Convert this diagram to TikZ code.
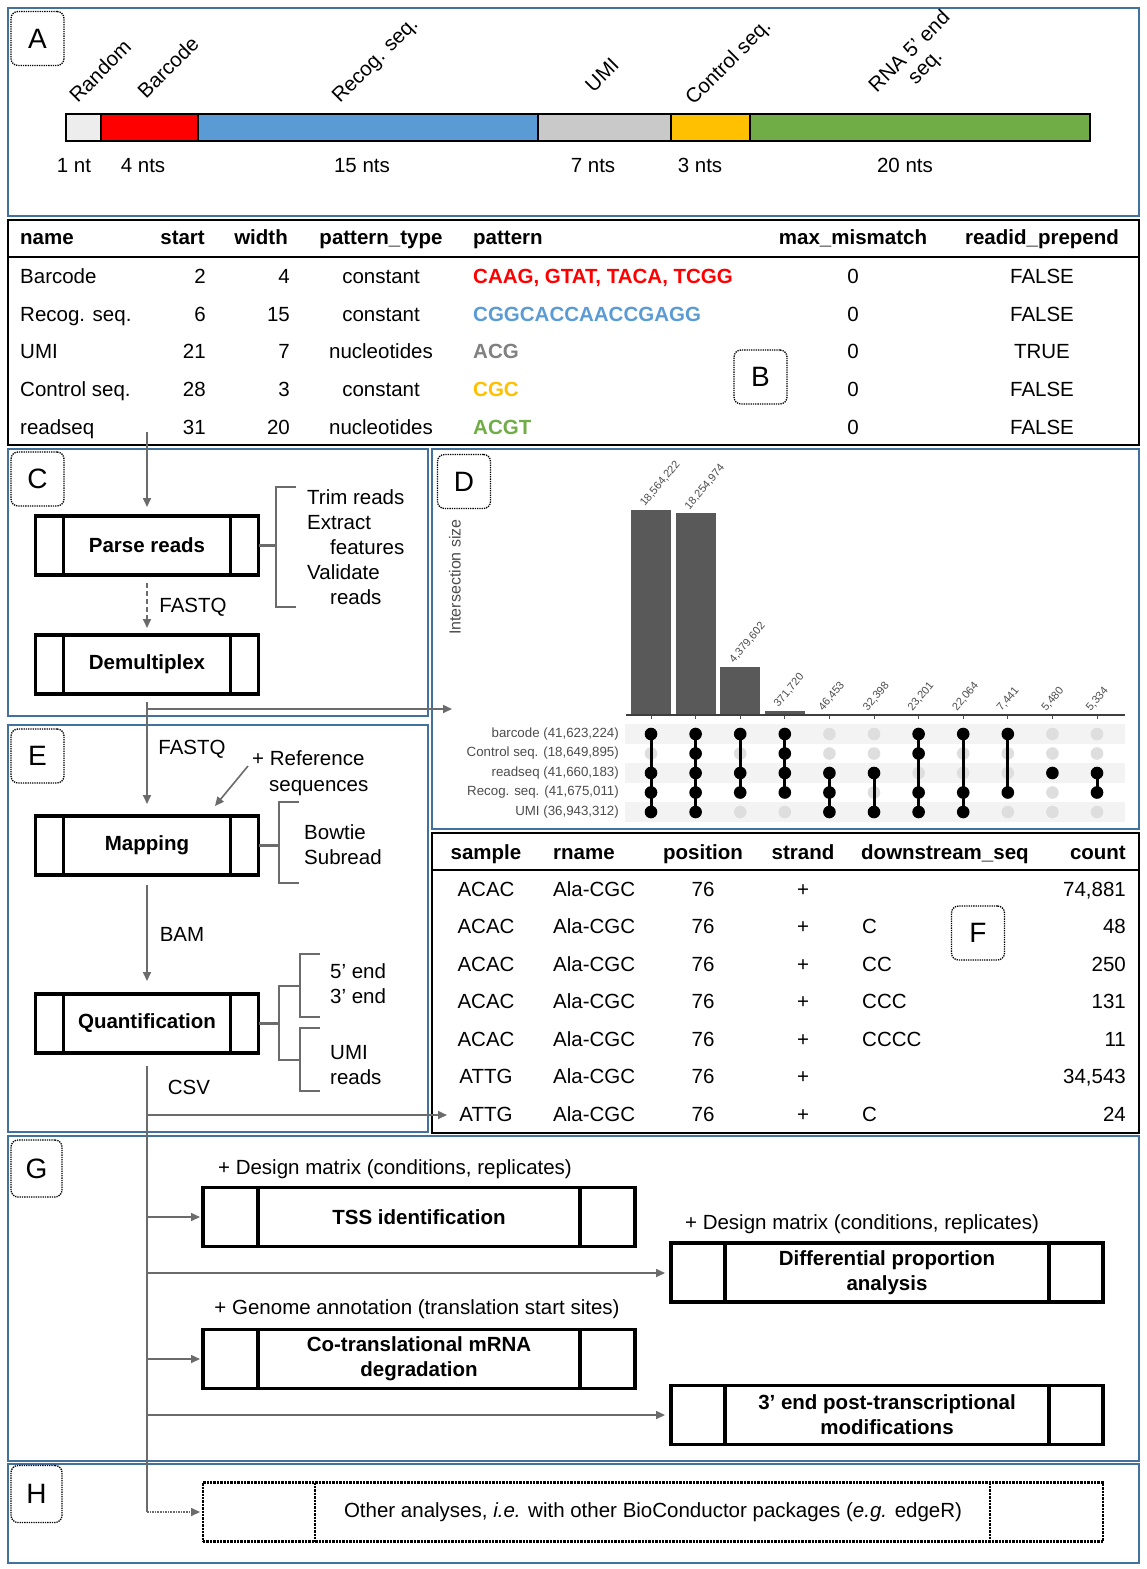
\documentclass[tikz,border=0pt]{standalone}
\usepackage{fontspec}
\setmainfont{Liberation Sans}
\usetikzlibrary{arrows.meta,calc}
\definecolor{panelblue}{HTML}{41719C}
\definecolor{segred}{HTML}{FF0000}
\definecolor{segblue}{HTML}{5B9BD5}
\definecolor{seggrey}{HTML}{C9C9C9}
\definecolor{seglight}{HTML}{EDEDED}
\definecolor{segyellow}{HTML}{FFC000}
\definecolor{seggreen}{HTML}{70AD47}
\definecolor{patgrey}{HTML}{808080}
\definecolor{flowgrey}{HTML}{6B6B6B}
\definecolor{bargrey}{HTML}{595959}
\definecolor{dotoff}{HTML}{DEDEDE}
\definecolor{stripe}{HTML}{F3F3F3}
\definecolor{plottext}{HTML}{4D4D4D}
\newcommand{\fs}[2]{\fontsize{#1}{#2}\selectfont}
\newcommand{\procinner}[3]{%
  \draw[line width=#3] ($(#1.north west)+(#2,0)$) -- ($(#1.south west)+(#2,0)$);
  \draw[line width=#3] ($(#1.north east)+(-#2,0)$) -- ($(#1.south east)+(-#2,0)$);}
\tikzset{
  panel/.style={draw=panelblue, line width=2pt},
  tablebox/.style={draw=black, line width=2pt},
  tagbox/.style={draw, densely dotted, rounded corners=7pt, line width=1.3pt, minimum width=53pt, minimum height=54pt, inner sep=0pt, font=\fs{28}{30}},
  procbox/.style={draw, line width=3.3pt, outer sep=0pt, inner sep=0pt, minimum width=223pt, minimum height=59pt, font=\bfseries\fs{20.5}{25}},
  bigbox/.style={draw, line width=3.6pt, outer sep=0pt, inner sep=0pt, minimum width=432pt, minimum height=59pt, font=\bfseries\fs{20.5}{25}},
  lbl/.style={inner sep=0pt, font=\fs{20.5}{22}},
  hdr/.style={inner sep=0pt, font=\bfseries\fs{20.5}{22}},
  seq/.style={inner sep=0pt, font=\bfseries\fs{20.5}{22}},
  seg/.style={draw=black, line width=2pt},
  flow/.style={draw=flowgrey, line width=1.6pt, -{Triangle[length=9pt,width=8pt]}},
  flowline/.style={draw=flowgrey, line width=1.6pt},
  brk/.style={draw=flowgrey, line width=2.6pt},
  barlbl/.style={inner sep=0pt, rotate=50, anchor=south west, font=\fs{11}{12}, text=plottext},
  setlbl/.style={inner sep=0pt, anchor=east, font=\fs{13.3}{15}, text=plottext},
}
\begin{document}
\begin{tikzpicture}[x=1pt,y=-1pt]
\useasboundingbox[fill=white] (0,0) rectangle (1146,1569);

% ---------- panels ----------
\draw[panel] (8,8) rectangle (1139,216);
\draw[tablebox] (8,220) rectangle (1139,445);
\draw[panel] (8,449) rectangle (428,716);
\draw[panel] (432,449) rectangle (1139,829);
\draw[panel] (8,725) rectangle (428,1132);
\draw[tablebox] (432,833) rectangle (1139,1133);
\draw[panel] (8,1136) rectangle (1139,1461);
\draw[panel] (8,1464) rectangle (1139,1563);

% ---------- tags ----------
\node[tagbox] (tagA) at (37.5,38.5) {A};
\node[tagbox] (tagB) at (760.5,377) {B};
\node[tagbox] (tagC) at (37.5,479) {C};
\node[tagbox] (tagD) at (464,481.5) {D};
\node[tagbox] (tagE) at (37.5,756) {E};
\node[tagbox] (tagF) at (978,933) {F};
\node[tagbox, minimum width=51pt, minimum height=57pt] (tagG) at (36.5,1168.5) {G};
\node[tagbox, minimum width=51pt, minimum height=57pt] (tagH) at (36.5,1494) {H};

% ---------- panel A : read structure ----------
\draw[seg, fill=seglight] (66,114) rectangle (101,141);
\draw[seg, fill=segred] (101,114) rectangle (198,141);
\draw[seg, fill=segblue] (198,114) rectangle (538,141);
\draw[seg, fill=seggrey] (538,114) rectangle (671,141);
\draw[seg, fill=segyellow] (671,114) rectangle (750,141);
\draw[seg, fill=seggreen] (750,114) rectangle (1090,141);

\node[lbl, rotate=45] (aRandom) at (100,71) {Random};
\node[lbl, rotate=45] (aBarcode) at (168,67) {Barcode};
\node[lbl, rotate=45] (aRecog) at (376,61) {Recog. seq.};
\node[lbl, rotate=45] (aUMI) at (602,75) {UMI};
\node[lbl, rotate=45] (aControl) at (729,63) {Control seq.};
\node[lbl, rotate=45, align=center] (aRNA) at (918,60) {RNA 5’ end\\seq.};

\node[lbl, anchor=base] (n1) at (74,172) {1 nt};
\node[lbl, anchor=base] (n4) at (143,172) {4 nts};
\node[lbl, anchor=base] (n15) at (362,172) {15 nts};
\node[lbl, anchor=base] (n7) at (593,172) {7 nts};
\node[lbl, anchor=base] (n3) at (700,172) {3 nts};
\node[lbl, anchor=base] (n20) at (905,172) {20 nts};

% ---------- table B ----------
\draw[line width=1.5pt] (8,257) -- (1139,257);
\node[hdr, anchor=base west] (bh1) at (20,244) {name};
\node[hdr, anchor=base east] (bh2) at (205,244) {start};
\node[hdr, anchor=base east] (bh3) at (288,244) {width};
\node[hdr, anchor=base] (bh4) at (381,244) {pattern\_type};
\node[hdr, anchor=base west] (bh5) at (473,244) {pattern};
\node[hdr, anchor=base] (bh6) at (853,244) {max\_mismatch};
\node[hdr, anchor=base] (bh7) at (1042,244) {readid\_prepend};
\foreach \yy/\cnm/\cst/\cwid/\cpt/\cpat/\ccol/\ctf [count=\k] in {
  283.5/Barcode/2/4/constant/{CAAG, GTAT, TACA, TCGG}/segred/FALSE,
  321.5/Recog. seq./6/15/constant/CGGCACCAACCGAGG/segblue/FALSE,
  358.5/UMI/21/7/nucleotides/ACG/patgrey/TRUE,
  396.5/Control seq./28/3/constant/CGC/segyellow/FALSE,
  434.5/readseq/31/20/nucleotides/ACGT/seggreen/FALSE}{
  \node[lbl, anchor=base west] (b\k a) at (20,\yy) {\cnm};
  \node[lbl, anchor=base east] (b\k b) at (206,\yy) {\cst};
  \node[lbl, anchor=base east] (b\k c) at (290,\yy) {\cwid};
  \node[lbl, anchor=base] (b\k d) at (381,\yy) {\cpt};
  \node[seq, anchor=base west, text=\ccol] (b\k e) at (473,\yy) {\cpat};
  \node[lbl, anchor=base] (b\k f) at (853,\yy) {0};
  \node[lbl, anchor=base] (b\k g) at (1042,\yy) {\ctf};
}

% ---------- panel C ----------
\node[procbox] (parse) at (147,545.5) {Parse reads};
\procinner{parse}{28}{3.3pt}
\node[procbox] (demux) at (147,664.5) {Demultiplex};
\procinner{demux}{28}{3.3pt}
\coordinate (cB) at (147,432);
\draw[flow, shorten >=9pt] (cB) -- (parse.north);
\draw[flow, dash pattern=on 5pt off 3pt, shorten <=8pt, shorten >=7pt] (parse.south) -- (demux.north);
\node[lbl, anchor=base] (fq1) at (193,612.5) {FASTQ};
\draw[brk] (parse.east) -- (276,545.5);
\draw[brk] (296,487) -- (276,487) -- (276,607) -- (296,607);
\node[lbl, anchor=base west] (c1) at (307,504.5) {Trim reads};
\node[lbl, anchor=base west] (c2) at (307,529) {Extract};
\node[lbl, anchor=base west] (c3) at (330,554) {features};
\node[lbl, anchor=base west] (c4) at (307,579) {Validate};
\node[lbl, anchor=base west] (c5) at (330,604) {reads};

% ---------- panel E ----------
\node[procbox] (map) at (147,845.5) {Mapping};
\procinner{map}{28}{3.3pt}
\node[procbox] (quant) at (147,1023.5) {Quantification};
\procinner{quant}{28}{3.3pt}
\coordinate (brD) at (147,709);
\coordinate (dIn) at (452,709);
\draw[flow, shorten <=8pt, shorten >=12pt] (demux.south) -- (map.north);
\draw[flow] (brD) -- (dIn);
\node[lbl, anchor=base] (fq2) at (192,754.5) {FASTQ};
\node[lbl, anchor=base west] (ref1) at (252,765.5) {+ Reference};
\node[lbl, anchor=base west] (ref2) at (269,791.5) {sequences};
\coordinate (refA) at (248,766);
\coordinate (refB) at (215,806);
\draw[flow] (refA) -- (refB);
\draw[brk] (map.east) -- (279,845.5);
\draw[brk] (299,802) -- (279,802) -- (279,883) -- (299,883);
\node[lbl, anchor=base west] (e1) at (304,839.5) {Bowtie};
\node[lbl, anchor=base west] (e2) at (304,864.5) {Subread};
\draw[flow, shorten <=10pt, shorten >=13pt] (map.south) -- (quant.north);
\node[lbl, anchor=base] (bam) at (182,941.5) {BAM};
\draw[brk] (quant.east) -- (279,1023.5);
\draw[brk] (300,986) -- (279,986) -- (279,1060) -- (300,1060);
\draw[brk] (320,954) -- (300,954) -- (300,1017) -- (320,1017);
\draw[brk] (320,1028) -- (300,1028) -- (300,1091) -- (320,1091);
\node[lbl, anchor=base west] (q1) at (330,978.5) {5’ end};
\node[lbl, anchor=base west] (q2) at (330,1003.5) {3’ end};
\node[lbl, anchor=base west] (q3) at (330,1059) {UMI};
\node[lbl, anchor=base west] (q4) at (330,1084) {reads};
\node[lbl, anchor=base] (csv) at (189,1094.5) {CSV};
\coordinate (csvTop) at (147,1066);
\coordinate (csvBot) at (147,1512);
\coordinate (brF) at (147,1115);
\coordinate (fIn) at (447,1115);
\draw[flowline] (csvTop) -- (csvBot);
\draw[flow] (brF) -- (fIn);

% ---------- panel D : upset plot ----------
\node[inner sep=0pt, rotate=90, font=\fs{16}{18}, text=plottext] (isz) at (455,577) {Intersection size};
\foreach \rr in {0,2,4}{
  \fill[stripe] (625,{724.25+19.5*\rr}) rectangle (1125,{743.75+19.5*\rr});
}
\foreach \ci/\cv/\clab in {1/18.564222/{18,564,222},2/18.254974/{18,254,974},3/4.379602/{4,379,602},4/0.371720/{371,720},5/0.046453/{46,453},6/0.032398/{32,398},7/0.023201/{23,201},8/0.022064/{22,064},9/0.007441/{7,441},10/0.005480/{5,480},11/0.005334/{5,334}}{
  \pgfmathsetmacro\cx{651+44.6*(\ci-1)}
  \pgfmathsetmacro\btop{715-205*(\cv/18.564222)}
  \fill[bargrey] ({\cx-20},\btop) rectangle ({\cx+20},715);
  \node[barlbl] (bl\ci) at ({\cx-5},{\btop-2}) {\clab};
  \draw[plottext, line width=1pt] (\cx,715) -- (\cx,719);
}
\draw[plottext!80!black, line width=2.2pt] (626,715) -- (1125,715);
\node[setlbl] (s1) at (619,734) {barcode (41,623,224)};
\node[setlbl] (s2) at (619,753.5) {Control seq. (18,649,895)};
\node[setlbl] (s3) at (619,773) {readseq (41,660,183)};
\node[setlbl] (s4) at (619,792.5) {Recog. seq. (41,675,011)};
\node[setlbl] (s5) at (619,812) {UMI (36,943,312)};
\foreach \ci/\fa/\fb/\fc/\fd/\fe/\rtop/\rbot in {1/1/0/1/1/1/1/5, 2/1/1/1/1/1/1/5, 3/1/0/1/1/0/1/4, 4/1/1/1/1/0/1/4, 5/0/0/1/1/1/3/5, 6/0/0/1/0/1/3/5, 7/1/1/0/1/1/1/5, 8/1/0/0/1/1/1/5, 9/1/0/0/1/0/1/4, 10/0/0/1/0/0/3/3, 11/0/0/1/1/0/3/4}{
  \pgfmathsetmacro\cx{651+44.6*(\ci-1)}
  \foreach \rr in {1,...,5}{
    \fill[dotoff] (\cx,{734+19.5*(\rr-1)}) circle[radius=6.3pt];
  }
  \draw[line width=3pt] (\cx,{734+19.5*(\rtop-1)}) -- (\cx,{734+19.5*(\rbot-1)});
  \foreach \fl [count=\rr] in {\fa,\fb,\fc,\fd,\fe}{
    \ifnum\fl=1 \fill[black] (\cx,{734+19.5*(\rr-1)}) circle[radius=6.3pt];\fi
  }
}

% ---------- table F ----------
\draw[line width=1.5pt] (432,870) -- (1139,870);
\node[hdr, anchor=base] (fh1) at (486,859) {sample};
\node[hdr, anchor=base west] (fh2) at (553,859) {rname};
\node[hdr, anchor=base] (fh3) at (703,859) {position};
\node[hdr, anchor=base] (fh4) at (803,859) {strand};
\node[hdr, anchor=base west] (fh5) at (861,859) {downstream\_seq};
\node[hdr, anchor=base east] (fh6) at (1126,859) {count};
\foreach \yy/\csm/\cds/\cct [count=\k] in {896.5/ACAC//{74,881}, 933.5/ACAC/C/48, 971.5/ACAC/CC/250, 1008.5/ACAC/CCC/131, 1046.5/ACAC/CCCC/11, 1083.5/ATTG//{34,543}, 1121.5/ATTG/C/24}{
  \node[lbl, anchor=base] (f\k a) at (486,\yy) {\csm};
  \node[lbl, anchor=base west] (f\k b) at (553,\yy) {Ala-CGC};
  \node[lbl, anchor=base] (f\k c) at (703,\yy) {76};
  \node[lbl, anchor=base] (f\k d) at (803,\yy) {+};
  \node[lbl, anchor=base west] (f\k e) at (862,\yy) {\cds};
  \node[lbl, anchor=base east] (f\k f) at (1126,\yy) {\cct};
}

% ---------- panel G ----------
\node[bigbox] (tss) at (419,1217) {TSS identification};
\procinner{tss}{55}{3.6pt}
\node[bigbox, align=center] (diff) at (887,1272.5) {Differential proportion\\analysis};
\procinner{diff}{54}{3.6pt}
\node[bigbox, align=center] (cotr) at (419,1359) {Co-translational mRNA\\degradation};
\procinner{cotr}{55}{3.6pt}
\node[bigbox, align=center] (ptm) at (887,1415) {3’ end post-transcriptional\\modifications};
\procinner{ptm}{54}{3.6pt}
\node[lbl, anchor=base] (dm1) at (395,1174) {+ Design matrix (conditions, replicates)};
\node[lbl, anchor=base] (dm2) at (862,1229) {+ Design matrix (conditions, replicates)};
\node[lbl, anchor=base] (ga) at (417,1314) {+ Genome annotation (translation start sites)};
\coordinate (g1) at (147,1217);
\coordinate (g2) at (147,1273);
\coordinate (g3) at (147,1359);
\coordinate (g4) at (147,1415);
\draw[flow, shorten >=3pt] (g1) -- (tss.west);
\draw[flow, shorten >=6pt] (g2) -- (g2 -| diff.west);
\draw[flow, shorten >=3pt] (g3) -- (cotr.west);
\draw[flow, shorten >=6pt] (g4) -- (g4 -| ptm.west);

% ---------- panel H ----------
\node[draw, densely dotted, line width=2.4pt, outer sep=0pt, minimum width=900pt, minimum height=59pt, inner sep=0pt, font=\fs{20.5}{22}] (other) at (653,1512) {Other analyses, \textit{i.e.} with other BioConductor packages (\textit{e.g.} edgeR)};
\draw[densely dotted, line width=2.4pt] ($(other.north west)+(112,0)$) -- ($(other.south west)+(112,0)$);
\draw[densely dotted, line width=2.4pt] ($(other.north east)+(-113,0)$) -- ($(other.south east)+(-113,0)$);
\draw[flow, densely dotted, shorten >=3pt] (csvBot) -- (other.west);
\end{tikzpicture}
\end{document}
